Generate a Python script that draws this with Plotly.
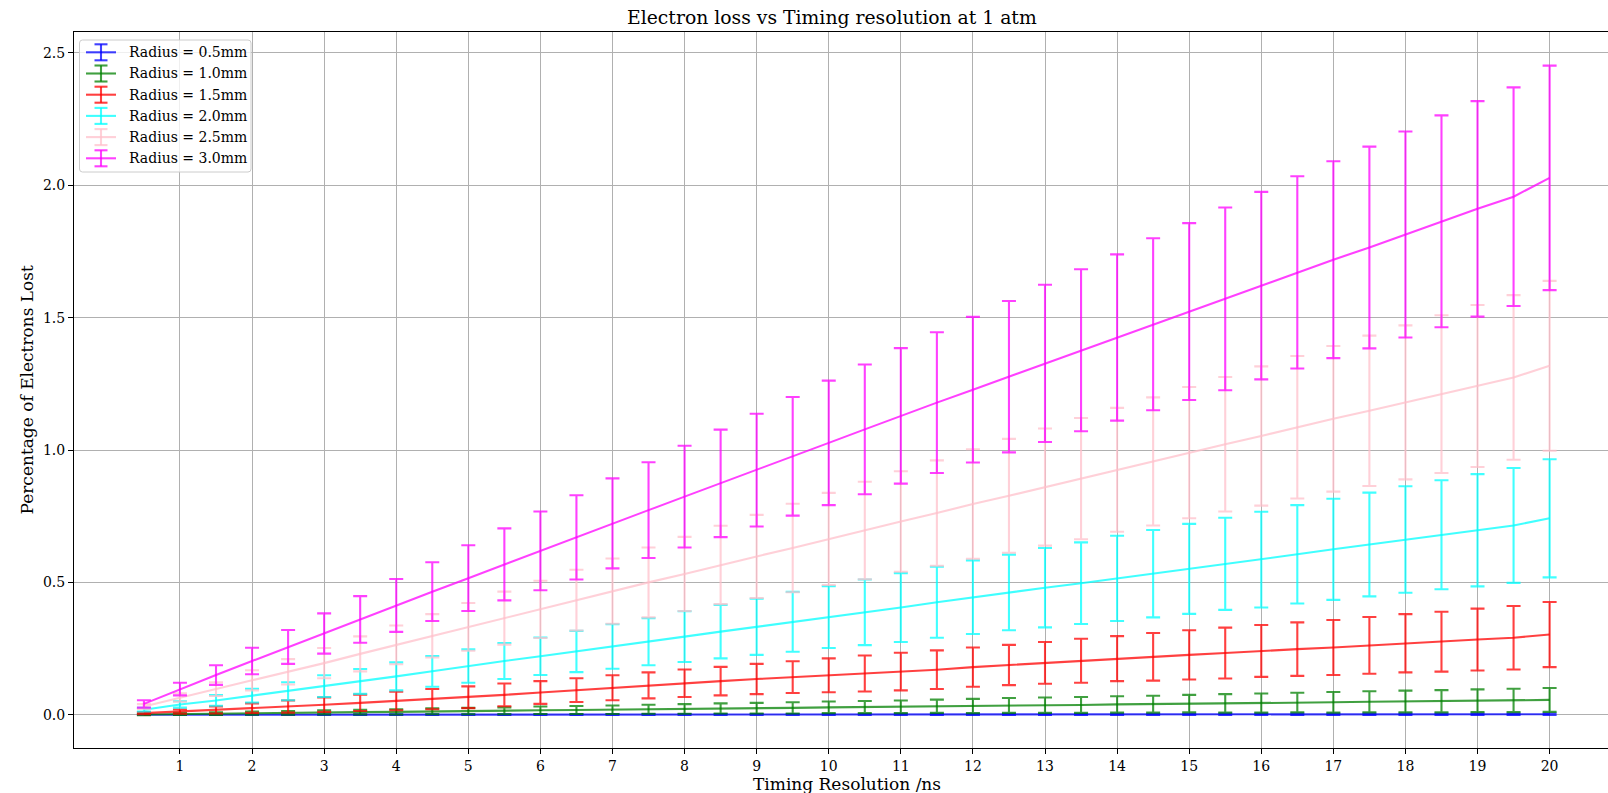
import plotly.graph_objects as go

# ---- data -------------------------------------------------------------
timing_ns = [0.5, 1.0, 1.5, 2.0, 2.5, 3.0, 3.5, 4.0, 4.5, 5.0,
             5.5, 6.0, 6.5, 7.0, 7.5, 8.0, 8.5, 9.0, 9.5, 10.0,
             10.5, 11.0, 11.5, 12.0, 12.5, 13.0, 13.5, 14.0, 14.5, 15.0,
             15.5, 16.0, 16.5, 17.0, 17.5, 18.0, 18.5, 19.0, 19.5, 20.0]

radius_labels = ["Radius = 0.5mm", "Radius = 1.0mm", "Radius = 1.5mm",
                 "Radius = 2.0mm", "Radius = 2.5mm", "Radius = 3.0mm"]

loss_r05 = [0.0000, 0.0001, 0.0001, 0.0002, 0.0002, 0.0003, 0.0003, 0.0004, 0.0004, 0.0005,
            0.0005, 0.0006, 0.0006, 0.0007, 0.0007, 0.0008, 0.0008, 0.0009, 0.0009, 0.0010,
            0.0010, 0.0011, 0.0011, 0.0012, 0.0012, 0.0013, 0.0013, 0.0014, 0.0014, 0.0015,
            0.0015, 0.0016, 0.0016, 0.0017, 0.0017, 0.0018, 0.0018, 0.0019, 0.0019, 0.0020]
err_r05 = [0.0005, 0.0006, 0.0007, 0.0008, 0.0009, 0.0010, 0.0011, 0.0012, 0.0013, 0.0013,
           0.0014, 0.0015, 0.0015, 0.0016, 0.0017, 0.0017, 0.0018, 0.0019, 0.0019, 0.0020,
           0.0021, 0.0021, 0.0022, 0.0022, 0.0023, 0.0023, 0.0024, 0.0024, 0.0025, 0.0025,
           0.0026, 0.0026, 0.0027, 0.0027, 0.0028, 0.0028, 0.0029, 0.0029, 0.0030, 0.0030]

loss_r10 = [0.001, 0.003, 0.004, 0.006, 0.007, 0.009, 0.010, 0.011, 0.013, 0.014,
            0.015, 0.017, 0.018, 0.019, 0.021, 0.022, 0.024, 0.025, 0.026, 0.028,
            0.029, 0.030, 0.032, 0.033, 0.035, 0.036, 0.037, 0.039, 0.040, 0.042,
            0.043, 0.044, 0.046, 0.047, 0.049, 0.050, 0.051, 0.053, 0.054, 0.056]
err_r10 = [0.003, 0.004, 0.005, 0.006, 0.007, 0.008, 0.009, 0.010, 0.011, 0.012,
           0.013, 0.014, 0.015, 0.016, 0.017, 0.018, 0.019, 0.020, 0.021, 0.022,
           0.023, 0.024, 0.025, 0.027, 0.028, 0.029, 0.030, 0.031, 0.032, 0.033,
           0.035, 0.036, 0.037, 0.039, 0.040, 0.041, 0.042, 0.043, 0.044, 0.045]

loss_r15 = [0.006, 0.012, 0.018, 0.025, 0.031, 0.038, 0.045, 0.052, 0.059, 0.066,
            0.075, 0.084, 0.093, 0.102, 0.111, 0.119, 0.127, 0.135, 0.142, 0.149,
            0.156, 0.163, 0.170, 0.180, 0.188, 0.196, 0.204, 0.212, 0.219, 0.226,
            0.233, 0.241, 0.248, 0.254, 0.262, 0.270, 0.276, 0.284, 0.291, 0.303]
err_r15 = [0.004, 0.008, 0.013, 0.018, 0.023, 0.027, 0.031, 0.035, 0.038, 0.041,
           0.043, 0.043, 0.045, 0.047, 0.049, 0.052, 0.054, 0.057, 0.060, 0.064,
           0.068, 0.071, 0.073, 0.074, 0.076, 0.079, 0.083, 0.085, 0.090, 0.093,
           0.096, 0.098, 0.101, 0.104, 0.107, 0.110, 0.113, 0.117, 0.120, 0.123]

loss_r20 = [0.019, 0.039, 0.054, 0.072, 0.089, 0.108, 0.126, 0.145, 0.164, 0.184,
            0.203, 0.221, 0.239, 0.258, 0.276, 0.295, 0.314, 0.332, 0.351, 0.369,
            0.387, 0.405, 0.425, 0.444, 0.462, 0.480, 0.497, 0.515, 0.533, 0.551,
            0.570, 0.586, 0.606, 0.625, 0.643, 0.662, 0.680, 0.697, 0.715, 0.742]
err_r20 = [0.007, 0.012, 0.020, 0.026, 0.034, 0.041, 0.047, 0.053, 0.058, 0.063,
           0.068, 0.071, 0.078, 0.084, 0.089, 0.096, 0.101, 0.106, 0.113, 0.117,
           0.124, 0.130, 0.134, 0.139, 0.143, 0.150, 0.154, 0.161, 0.165, 0.170,
           0.174, 0.181, 0.186, 0.191, 0.196, 0.201, 0.206, 0.212, 0.217, 0.223]

loss_r25 = [0.031, 0.065, 0.097, 0.130, 0.162, 0.195, 0.230, 0.264, 0.298, 0.332,
            0.365, 0.398, 0.433, 0.467, 0.500, 0.532, 0.566, 0.598, 0.630, 0.664,
            0.696, 0.730, 0.762, 0.796, 0.827, 0.860, 0.892, 0.925, 0.957, 0.990,
            1.022, 1.053, 1.086, 1.118, 1.148, 1.180, 1.211, 1.242, 1.274, 1.318]
err_r25 = [0.009, 0.016, 0.026, 0.038, 0.048, 0.057, 0.066, 0.073, 0.082, 0.090,
           0.100, 0.108, 0.115, 0.123, 0.132, 0.140, 0.148, 0.157, 0.167, 0.174,
           0.184, 0.190, 0.199, 0.207, 0.215, 0.221, 0.229, 0.234, 0.242, 0.248,
           0.254, 0.263, 0.269, 0.275, 0.284, 0.291, 0.298, 0.306, 0.311, 0.321]

loss_r30 = [0.041, 0.097, 0.150, 0.203, 0.256, 0.307, 0.360, 0.413, 0.465, 0.516,
            0.568, 0.619, 0.670, 0.723, 0.773, 0.824, 0.874, 0.924, 0.976, 1.027,
            1.078, 1.129, 1.179, 1.228, 1.277, 1.327, 1.377, 1.425, 1.475, 1.523,
            1.571, 1.621, 1.671, 1.719, 1.765, 1.814, 1.864, 1.911, 1.957, 2.028]
err_r30 = [0.014, 0.024, 0.037, 0.050, 0.064, 0.076, 0.088, 0.100, 0.111, 0.124,
           0.136, 0.149, 0.159, 0.170, 0.181, 0.192, 0.203, 0.213, 0.224, 0.235,
           0.245, 0.256, 0.266, 0.275, 0.286, 0.297, 0.306, 0.314, 0.325, 0.334,
           0.345, 0.354, 0.363, 0.372, 0.381, 0.389, 0.400, 0.407, 0.413, 0.424]

y_ticks = [0.0, 0.5, 1.0, 1.5, 2.0, 2.5]
x_ticks = list(range(1, 21))

series_values = [loss_r05, loss_r10, loss_r15, loss_r20, loss_r25, loss_r30]
series_errors = [err_r05, err_r10, err_r15, err_r20, err_r25, err_r30]

# matplotlib-like named colours drawn at alpha 0.75
series_colors = ["rgba(0,0,255,0.75)", "rgba(0,128,0,0.75)", "rgba(255,0,0,0.75)",
                 "rgba(0,255,255,0.75)", "rgba(255,192,203,0.75)", "rgba(255,0,255,0.75)"]

FONT = "DejaVu Serif"
W, H = 1608, 793
L, R, T, B = 74, 1608, 32, 748   # plot area in pixels


def px(x):
    return (x - L) / (R - L)


def py(y):
    return (B - y) / (B - T)


fig = go.Figure()
for vals, errs, col, name in zip(series_values, series_errors, series_colors, radius_labels):
    fig.add_trace(go.Scatter(
        x=timing_ns, y=vals, mode="lines", name=name,
        line=dict(color=col, width=2.1),
        error_y=dict(type="data", array=errs, visible=True,
                     color=col, thickness=2.1, width=7),
        showlegend=False,
    ))

# ---- hand-built legend with errorbar handles ----------------------------
shapes = []
annotations = []


def rounded_rect(x0, y0, x1, y1, r):
    X = lambda v: px(v)
    Y = lambda v: py(v)
    return (f"M {X(x0 + r)},{Y(y0)} L {X(x1 - r)},{Y(y0)} Q {X(x1)},{Y(y0)} {X(x1)},{Y(y0 + r)} "
            f"L {X(x1)},{Y(y1 - r)} Q {X(x1)},{Y(y1)} {X(x1 - r)},{Y(y1)} "
            f"L {X(x0 + r)},{Y(y1)} Q {X(x0)},{Y(y1)} {X(x0)},{Y(y1 - r)} "
            f"L {X(x0)},{Y(y0 + r)} Q {X(x0)},{Y(y0)} {X(x0 + r)},{Y(y0)} Z")


shapes.append(dict(type="path", xref="paper", yref="paper", layer="above",
                   path=rounded_rect(79.5, 40, 251, 172, 3),
                   fillcolor="rgba(255,255,255,0.8)",
                   line=dict(color="#cccccc", width=1)))

row0, row_gap = 52.3, 21.2
for i, (col, name) in enumerate(zip(series_colors, radius_labels)):
    yc = row0 + i * row_gap
    segs = [(86, yc, 116, yc), (101, yc - 8, 101, yc + 8),
            (94.5, yc - 8, 107.5, yc - 8), (94.5, yc + 8, 107.5, yc + 8)]
    for x0, y0, x1, y1 in segs:
        shapes.append(dict(type="line", xref="paper", yref="paper", layer="above",
                           x0=px(x0), y0=py(y0), x1=px(x1), y1=py(y1),
                           line=dict(color=col, width=2.1)))
    annotations.append(dict(text=name, xref="paper", yref="paper",
                            x=px(126.5), y=py(yc), xanchor="left", yanchor="middle",
                            showarrow=False, font=dict(family=FONT, size=14, color="black")))

# titles
annotations.append(dict(text="Electron loss vs Timing resolution at 1 atm",
                        xref="paper", yref="paper", x=px(832), y=py(17.5),
                        xanchor="center", yanchor="middle", showarrow=False,
                        font=dict(family=FONT, size=18.8, color="black")))
annotations.append(dict(text="Timing Resolution /ns",
                        xref="paper", yref="paper", x=px(847), y=py(784),
                        xanchor="center", yanchor="middle", showarrow=False,
                        font=dict(family=FONT, size=17, color="black")))
annotations.append(dict(text="Percentage of Electrons Lost",
                        xref="paper", yref="paper", x=px(26.5), y=py(390),
                        xanchor="center", yanchor="middle", textangle=-90, showarrow=False,
                        font=dict(family=FONT, size=17, color="black")))

fig.update_layout(
    width=W, height=H,
    margin=dict(l=L, r=W - R, t=T, b=H - B, pad=0),
    paper_bgcolor="white", plot_bgcolor="white",
    font=dict(family=FONT, size=14, color="black"),
    shapes=shapes, annotations=annotations,
    showlegend=False,
)
fig.update_xaxes(
    range=[-0.47, 20.81], tickmode="array", tickvals=x_ticks,
    ticktext=[str(v) for v in x_ticks],
    showgrid=True, gridcolor="#b0b0b0", gridwidth=1.1, zeroline=False,
    showline=True, linecolor="black", linewidth=1.1, mirror=True,
    ticks="outside", ticklen=5, tickwidth=1.1, tickcolor="black",
    tickfont=dict(family=FONT, size=14, color="black"),
)
fig.update_yaxes(
    range=[-0.1256, 2.579], tickmode="array", tickvals=y_ticks,
    ticktext=[f"{v:.1f}" for v in y_ticks],
    showgrid=True, gridcolor="#b0b0b0", gridwidth=1.1, zeroline=False,
    showline=True, linecolor="black", linewidth=1.1, mirror=False,
    ticks="outside", ticklen=5, tickwidth=1.1, tickcolor="black",
    tickfont=dict(family=FONT, size=14, color="black"),
)

fig.write_html("out.html")
